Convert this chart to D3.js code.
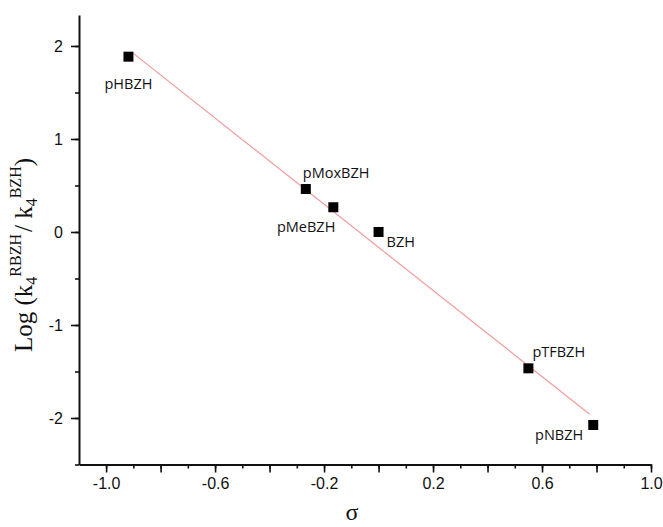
<!DOCTYPE html>
<html>
<head>
<meta charset="utf-8">
<script src="https://cdn.jsdelivr.net/npm/d3@7"></script>
<style>
  body { margin: 0; background: #fff; }
  svg { display: block; }
  .tick-label { font-family: "Liberation Sans", Arial, sans-serif; font-size: 16px; fill: #111; }
  .pt-label { font-family: "Open Sans", sans-serif; font-size: 14.5px; fill: #111; }
  .axis-title { font-family: "Liberation Serif", "Times New Roman", serif; fill: #111; }
</style>
</head>
<body>
<svg id="chart"></svg>
<script>
// substituent names and values
const names  = ["pHBZH", "pMoxBZH", "pMeBZH", "BZH", "pTFBZH", "pNBZH"];
const sigma  = [-0.918, -0.267, -0.166, 0.0, 0.55, 0.788];
const logK   = [1.885, 0.462, 0.266, 0.0, -1.466, -2.075];

// linear fit drawn through the points
const fitRange = [-0.90, 0.775];
const fitSlope = -2.317;
const fitIntercept = -0.165;

const xTickLabels = [-1.0, -0.6, -0.2, 0.2, 0.6, 1.0];
const yTickLabels = [-2, -1, 0, 1, 2];

// where each name sits relative to its square (pixels)
const labelPlacement = {
    "pHBZH":   { dx: 0,   dy: 32,  anchor: "middle" },
    "pMoxBZH": { dx: -3,  dy: -11, anchor: "start" },
    "pMeBZH":  { dx: 2,   dy: 25,  anchor: "end" },
    "BZH":     { dx: 8,   dy: 15,  anchor: "start" },
    "pTFBZH":  { dx: 4,   dy: -11, anchor: "start" },
    "pNBZH":   { dx: -10, dy: 15,  anchor: "end" }
};

const width = 663;
const height = 527;

const svg = d3.select("#chart")
    .attr("width", width)
    .attr("height", height);

const xScale = d3.scaleLinear()
    .domain([-1.0995, 1.0])
    .range([79, 651]);

const yScale = d3.scaleLinear()
    .domain([-2.5, 2.333])
    .range([464.5, 15]);

const hyphen = s => s.replace("\u2212", "-");

// minor ticks first (short, no labels)
const xMinor = d3.range(-1.0, 1.001, 0.1).map(v => +v.toFixed(1));
const xMajor = d3.range(-1.0, 1.001, 0.2).map(v => +v.toFixed(1));
const yMinor = d3.range(-2.5, 2.01, 0.5);

svg.append("g")
    .attr("transform", `translate(0, ${yScale(-2.5)})`)
    .call(d3.axisBottom(xScale).tickValues(xMinor).tickSize(4).tickFormat(""))
    .call(g => g.select(".domain").remove())
    .selectAll("line").attr("stroke", "#111").attr("stroke-width", 1.6);

const xAxis = svg.append("g")
    .attr("transform", `translate(0, ${yScale(-2.5)})`)
    .call(d3.axisBottom(xScale)
        .tickValues(xMajor)
        .tickSize(8)
        .tickSizeOuter(0)
        .tickFormat(d => xTickLabels.some(t => Math.abs(t - d) < 1e-6) ? d.toFixed(1) : ""));

xAxis.select(".domain").attr("stroke", "#111").attr("stroke-width", 2);
xAxis.selectAll(".tick line").attr("stroke", "#111").attr("stroke-width", 1.6);
xAxis.selectAll(".tick text")
    .attr("class", "tick-label")
    .attr("y", 13)
    .attr("dy", "0.71em");

svg.append("g")
    .attr("transform", `translate(${xScale(-1.0995)}, 0)`)
    .call(d3.axisLeft(yScale).tickValues(yMinor).tickSize(4).tickFormat(""))
    .call(g => g.select(".domain").remove())
    .selectAll("line").attr("stroke", "#111").attr("stroke-width", 1.6);

const yAxis = svg.append("g")
    .attr("transform", `translate(${xScale(-1.0995)}, 0)`)
    .call(d3.axisLeft(yScale)
        .tickValues(yTickLabels)
        .tickSize(8)
        .tickSizeOuter(0)
        .tickFormat(d => hyphen(d3.format("d")(d))));

yAxis.select(".domain").attr("stroke", "#111").attr("stroke-width", 2);
yAxis.selectAll(".tick line").attr("stroke", "#111").attr("stroke-width", 1.6);
yAxis.selectAll(".tick text")
    .attr("class", "tick-label")
    .attr("x", -16);

// fit line
svg.append("line")
    .attr("x1", xScale(fitRange[0]))
    .attr("y1", yScale(fitIntercept + fitSlope * fitRange[0]))
    .attr("x2", xScale(fitRange[1]))
    .attr("y2", yScale(fitIntercept + fitSlope * fitRange[1]))
    .attr("stroke", "#f29a9a")
    .attr("stroke-width", 1.2);

const points = names.map((n, i) => ({ name: n, x: sigma[i], y: logK[i] }));

const sq = 10;
svg.selectAll("rect.pt")
    .data(points)
    .enter()
    .append("rect")
    .attr("class", "pt")
    .attr("x", d => xScale(d.x) - sq / 2)
    .attr("y", d => yScale(d.y) - sq / 2)
    .attr("width", sq)
    .attr("height", sq)
    .attr("fill", "#000");

svg.selectAll("text.pt-label")
    .data(points)
    .enter()
    .append("text")
    .attr("class", "pt-label")
    .attr("x", d => xScale(d.x) + labelPlacement[d.name].dx)
    .attr("y", d => yScale(d.y) + labelPlacement[d.name].dy)
    .attr("text-anchor", d => labelPlacement[d.name].anchor)
    .text(d => d.name);

// axis titles
svg.append("text")
    .attr("class", "axis-title")
    .attr("x", 352)
    .attr("y", 520)
    .attr("text-anchor", "middle")
    .style("font-size", "24px")
    .text("σ");

const yTitle = svg.append("text")
    .attr("class", "axis-title")
    .attr("transform", "translate(32, 255) rotate(-90)")
    .attr("text-anchor", "middle")
    .style("font-size", "25px");

yTitle.append("tspan").text("Log (k");
yTitle.append("tspan").attr("dy", 5).style("font-size", "16px").text("4");
yTitle.append("tspan").attr("dy", -16).style("font-size", "16px").text("RBZH");
yTitle.append("tspan").attr("dy", 11).attr("dx", 2).text("/ k");
yTitle.append("tspan").attr("dy", 5).style("font-size", "16px").text("4");
yTitle.append("tspan").attr("dy", -16).style("font-size", "16px").text("BZH");
yTitle.append("tspan").attr("dy", 11).text(")");
</script>
</body>
</html>
